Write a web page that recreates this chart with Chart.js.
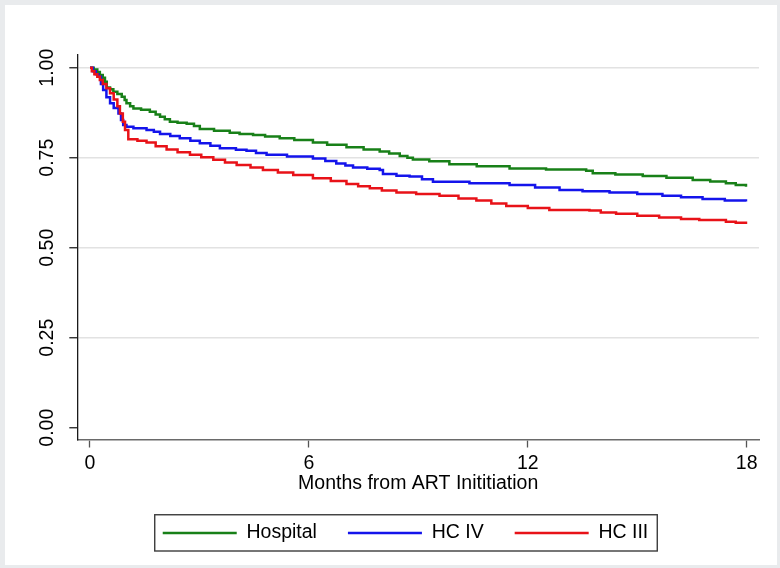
<!DOCTYPE html>
<html>
<head>
<meta charset="utf-8">
<script src="https://cdn.jsdelivr.net/npm/chart.js@4/dist/chart.umd.min.js"></script>
<style>
html,body{margin:0;padding:0;background:#e9ebed;}
#wrap{position:absolute;left:5px;top:5px;width:772px;height:560px;background:#fff;}
canvas{display:block;}
</style>
</head>
<body>
<div id="wrap"><canvas id="c" width="772" height="560"></canvas></div>
<script>
const seriesNames = ['Hospital', 'HC IV', 'HC III'];
const seriesColors = ['rgb(24,128,24)', 'rgb(20,20,235)', 'rgb(232,18,24)'];
const xTickValues = [0, 6, 12, 18];
const yTickValues = [0, 0.25, 0.5, 0.75, 1];
const xAxisTitle = 'Months from ART Inititiation';

const hospitalMonths = [0, 0.1, 0.2, 0.27, 0.35, 0.41, 0.46, 0.55, 0.64, 0.75, 0.87, 0.95, 1.0, 1.1, 1.19, 1.4, 1.64, 1.8, 1.92, 2.05, 2.19, 2.4, 2.65, 2.85, 3.01, 3.4, 3.83, 4.1, 4.47, 4.8, 5.2, 5.6, 6.11, 6.5, 7.03, 7.5, 7.94, 8.2, 8.49, 8.7, 8.85, 9.3, 9.85, 10.6, 11.5, 12.5, 13.6, 13.78, 14.4, 15.15, 15.8, 16.52, 17.0, 17.43, 17.7, 17.98];
const hospitalSurv = [1, 0.995, 0.988, 0.980, 0.972, 0.961, 0.945, 0.940, 0.933, 0.927, 0.919, 0.910, 0.901, 0.893, 0.887, 0.883, 0.878, 0.870, 0.864, 0.857, 0.850, 0.847, 0.844, 0.838, 0.830, 0.825, 0.819, 0.816, 0.813, 0.809, 0.804, 0.799, 0.792, 0.786, 0.779, 0.773, 0.767, 0.762, 0.755, 0.750, 0.745, 0.740, 0.732, 0.726, 0.720, 0.717, 0.714, 0.707, 0.703, 0.699, 0.694, 0.688, 0.684, 0.679, 0.674, 0.669];

const hc4Months = [0, 0.08, 0.16, 0.23, 0.3, 0.36, 0.45, 0.55, 0.65, 0.78, 0.85, 0.91, 1.0, 1.19, 1.55, 1.75, 1.92, 2.2, 2.46, 2.75, 3.01, 3.3, 3.56, 4.0, 4.29, 4.55, 4.84, 5.4, 6.11, 6.45, 6.75, 7.0, 7.21, 7.6, 7.94, 8.03, 8.4, 8.76, 9.1, 9.4, 10.4, 11.5, 12.2, 12.87, 13.5, 14.24, 15.0, 15.69, 16.2, 16.79, 17.4, 17.98];
const hc4Surv = [1, 0.99, 0.982, 0.975, 0.955, 0.938, 0.918, 0.901, 0.888, 0.873, 0.855, 0.841, 0.836, 0.832, 0.827, 0.822, 0.816, 0.810, 0.804, 0.797, 0.790, 0.783, 0.776, 0.772, 0.769, 0.763, 0.758, 0.753, 0.748, 0.741, 0.734, 0.728, 0.723, 0.719, 0.716, 0.705, 0.700, 0.698, 0.690, 0.683, 0.679, 0.674, 0.667, 0.660, 0.657, 0.653, 0.649, 0.644, 0.640, 0.635, 0.631, 0.628];

const hc3Months = [0, 0.05, 0.12, 0.2, 0.27, 0.35, 0.45, 0.55, 0.65, 0.75, 0.82, 0.9, 0.96, 1.05, 1.3, 1.55, 1.8, 2.1, 2.4, 2.74, 3.05, 3.38, 3.7, 4.02, 4.4, 4.74, 5.15, 5.57, 6.11, 6.6, 7.03, 7.35, 7.67, 8.0, 8.4, 8.94, 9.58, 10.1, 10.59, 11.0, 11.41, 12.0, 12.59, 13.69, 14.0, 14.42, 15.0, 15.6, 16.2, 16.7, 17.43, 17.7, 17.98];
const hc3Surv = [1, 0.99, 0.982, 0.975, 0.966, 0.955, 0.943, 0.929, 0.912, 0.893, 0.873, 0.85, 0.827, 0.801, 0.797, 0.792, 0.782, 0.773, 0.765, 0.758, 0.751, 0.744, 0.737, 0.730, 0.723, 0.716, 0.709, 0.702, 0.693, 0.685, 0.677, 0.671, 0.665, 0.659, 0.653, 0.649, 0.644, 0.637, 0.631, 0.623, 0.616, 0.610, 0.605, 0.603, 0.598, 0.594, 0.589, 0.584, 0.580, 0.577, 0.572, 0.569, 0.566];

const monthsList = [hospitalMonths, hc4Months, hc3Months];
const survList = [hospitalSurv, hc4Surv, hc3Surv];
const drawOrder = [3, 2, 1];

const FONT = "'Liberation Sans', Arial, Helvetica, sans-serif";
const LEGEND_SHIFT = 23.5;

const datasets = seriesNames.map((name, i) => ({
  label: name,
  data: monthsList[i].map((m, k) => ({x: m, y: survList[i][k]})),
  borderColor: seriesColors[i],
  backgroundColor: seriesColors[i],
  borderWidth: 2.5,
  pointRadius: 0,
  stepped: true,
  fill: false,
  order: drawOrder[i]
}));

const legendFrame = {
  id: 'legendFrame',
  afterLayout(chart) {
    const lg = chart.legend;
    if (lg) { lg.left += LEGEND_SHIFT; lg.right += LEGEND_SHIFT; }
  },
  afterDraw(chart) {
    const hb = chart.legend && chart.legend.legendHitBoxes;
    if (!hb || !hb.length) return;
    let l = Infinity, r = -Infinity, t = Infinity, b = -Infinity;
    hb.forEach(h => { l = Math.min(l, h.left); r = Math.max(r, h.left + h.width); t = Math.min(t, h.top); b = Math.max(b, h.top + h.height); });
    const ctx = chart.ctx;
    ctx.save();
    ctx.strokeStyle = '#3c3c3c';
    ctx.lineWidth = 1.4;
    ctx.strokeRect(l - 8, t - 8.5, (r + 9) - (l - 8), (b + 8.25) - (t - 8.5));
    ctx.restore();
  }
};

new Chart(document.getElementById('c'), {
  type: 'line',
  data: { datasets },
  options: {
    responsive: false,
    animation: false,
    devicePixelRatio: 1,
    layout: { padding: { left: 0, right: 18, top: 50, bottom: 12.25 } },
    plugins: {
      title: { display: false },
      tooltip: { enabled: false },
      legend: {
        position: 'bottom',
        align: 'center',
        labels: {
          font: { family: FONT, size: 19.5 },
          color: '#000',
          boxWidth: 74,
          boxHeight: 2.4,
          padding: 31,
          sort: (a, b) => a.datasetIndex - b.datasetIndex,
          generateLabels: (chart) => Chart.defaults.plugins.legend.labels.generateLabels(chart).map(it => Object.assign(it, { lineWidth: 0 }))
        }
      }
    },
    scales: {
      x: {
        type: 'linear',
        min: -0.348,
        max: 18.337,
        afterBuildTicks: (s) => { s.ticks = xTickValues.map(v => ({ value: v })); },
        afterFit: (s) => { s.height = 52.75; },
        ticks: {
          font: { family: FONT, size: 19.5, lineHeight: 1.2 },
          color: '#000',
          padding: 4,
          maxRotation: 0,
          autoSkip: false,
          callback: (v) => String(v)
        },
        grid: { drawOnChartArea: false, drawTicks: true, tickLength: 8, tickColor: '#555', tickWidth: 1.3 },
        border: { display: true, color: '#6a6a6a', width: 1.6 },
        title: {
          display: true,
          text: xAxisTitle,
          color: '#000',
          font: { family: FONT, size: 19.5, lineHeight: 0.85 },
          padding: { top: 0, bottom: 0 }
        }
      },
      y: {
        type: 'linear',
        min: -0.0328,
        max: 1.0353,
        afterBuildTicks: (s) => { s.ticks = yTickValues.map(v => ({ value: v })); },
        afterFit: (s) => { s.width = 72.3; },
        ticks: {
          font: { family: FONT, size: 19.5, lineHeight: 1.2 },
          color: '#000',
          padding: 3,
          minRotation: 90,
          maxRotation: 90,
          crossAlign: 'center',
          autoSkip: false,
          callback: (v) => Number(v).toFixed(2)
        },
        grid: {
          drawOnChartArea: true,
          drawTicks: true,
          tickLength: 8,
          tickColor: '#222',
          tickWidth: 1.3,
          lineWidth: 1.5,
          color: (ctx) => (ctx.tick && ctx.tick.value === 0) ? 'rgba(0,0,0,0)' : '#e2e2e2'
        },
        border: { display: true, color: '#1a1a1a', width: 1.3 }
      }
    }
  },
  plugins: [legendFrame]
});
</script>
</body>
</html>
